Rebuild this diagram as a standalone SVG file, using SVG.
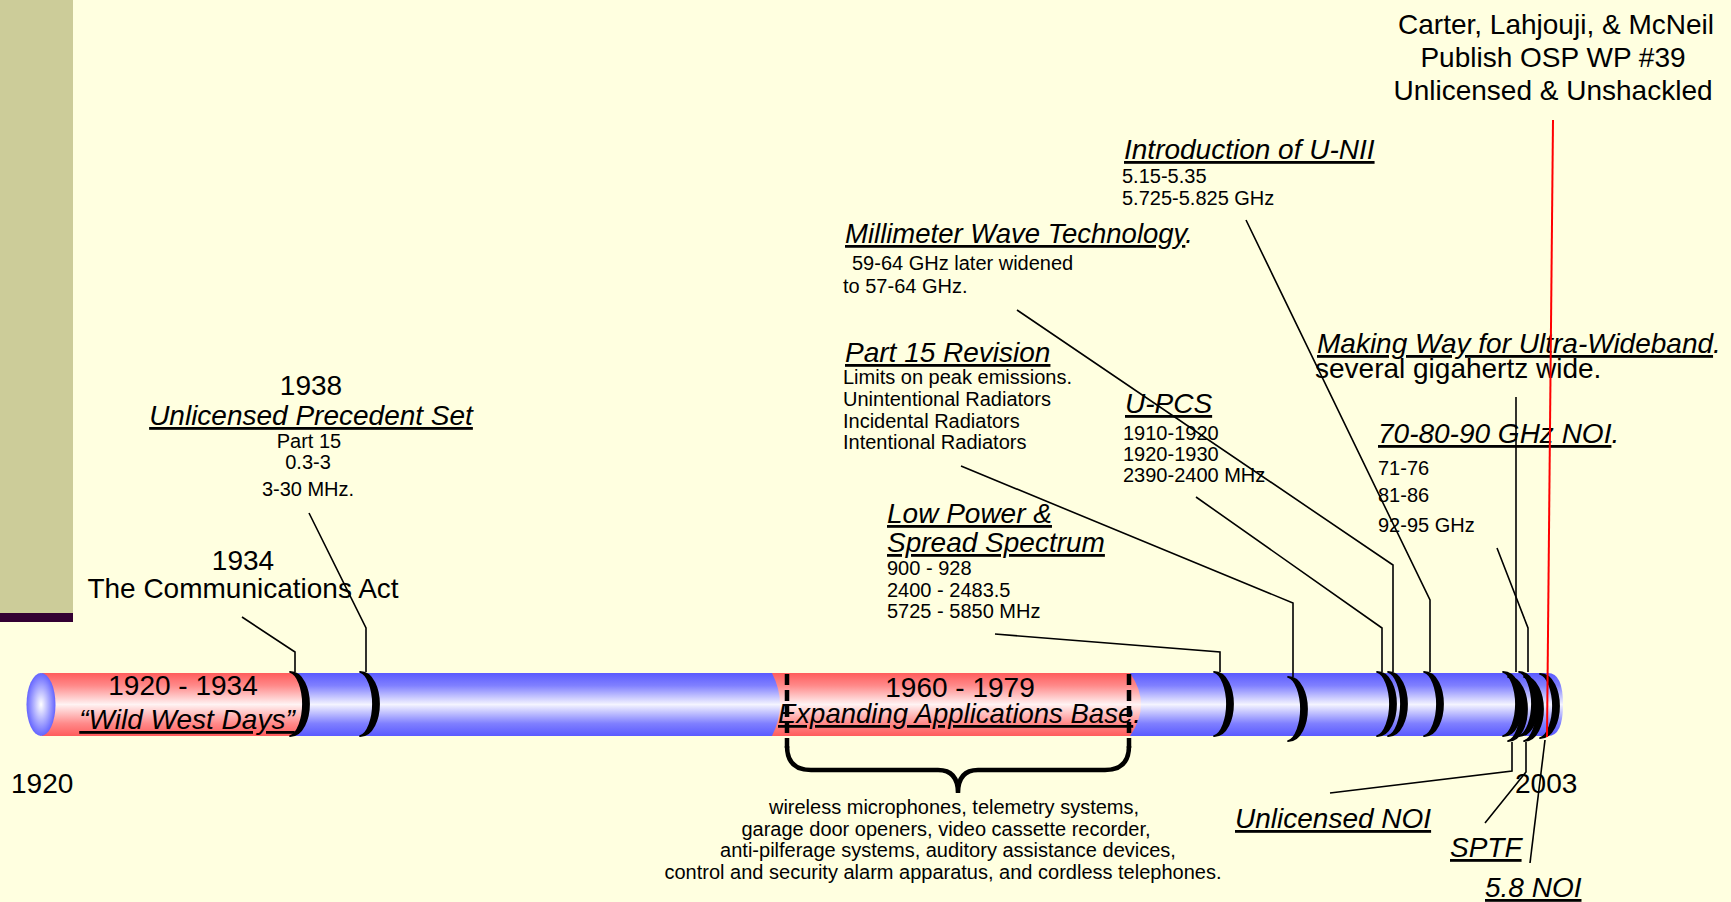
<svg xmlns="http://www.w3.org/2000/svg" width="1731" height="902" viewBox="0 0 1731 902">
<defs>
<style>
text{font-family:"Liberation Sans",Arial,sans-serif;fill:#000}
.b{font-size:28px}
.h{font-size:28px;font-style:italic}
.u{text-decoration:underline}
.s{font-size:20px}
.m{text-anchor:middle}
.con{fill:none;stroke:#000;stroke-width:1.6}
.brk{fill:#000;stroke:#000;stroke-width:1.8;stroke-linejoin:round}
</style>
<linearGradient id="blue" x1="0" y1="0" x2="0" y2="1">
<stop offset="0" stop-color="#5a5aff"/>
<stop offset="0.2" stop-color="#8080ff"/>
<stop offset="0.5" stop-color="#f4f4ff"/>
<stop offset="0.8" stop-color="#8080ff"/>
<stop offset="1" stop-color="#5a5aff"/>
</linearGradient>
<linearGradient id="red" x1="0" y1="0" x2="0" y2="1">
<stop offset="0" stop-color="#ff5c5c"/>
<stop offset="0.2" stop-color="#ff8a8a"/>
<stop offset="0.5" stop-color="#fff3f3"/>
<stop offset="0.8" stop-color="#ff8a8a"/>
<stop offset="1" stop-color="#ff5c5c"/>
</linearGradient>
<radialGradient id="cap" cx="0.5" cy="0.5" r="0.5">
<stop offset="0" stop-color="#ffffff"/>
<stop offset="1" stop-color="#6464ff"/>
</radialGradient>
<path id="br" d="M0,0 C13,0 19,18 19,32 C19,46 13,64 0,64 C8,62 13,46 13,32 C13,18 8,2 0,0 Z"/>
</defs>
<rect width="1731" height="902" fill="#ffffe0"/>
<rect x="0" y="0" width="73" height="613" fill="#cccc99"/>
<rect x="0" y="613" width="73" height="9" fill="#330033"/>

<g id="timeline">
<path d="M42,673 L1548,673 Q1563,673 1563,704.5 Q1563,736 1548,736 L42,736 Z" fill="url(#blue)"/>
<path d="M42,673 L292,673 Q326,704.5 292,736 L42,736 Z" fill="url(#red)"/>
<path d="M772,673 Q788,704.5 772,736 L1130,736 Q1152,704.5 1130,673 Z" fill="url(#red)"/>
<ellipse cx="41" cy="704.5" rx="14.5" ry="31.5" fill="url(#cap)"/>
</g>

<g id="brackets">
<use href="#br" class="brk" x="290" y="672"/>
<use href="#br" class="brk" x="360" y="672"/>
<use href="#br" class="brk" x="1214" y="672"/>
<use href="#br" class="brk" x="1288" y="677"/>
<use href="#br" class="brk" x="1377" y="672"/>
<use href="#br" class="brk" x="1388" y="672"/>
<use href="#br" class="brk" x="1424" y="672"/>
<use href="#br" class="brk" x="1503" y="672"/>
<use href="#br" class="brk" x="1508" y="677"/>
<use href="#br" class="brk" x="1519" y="672"/>
<use href="#br" class="brk" x="1524" y="677"/>
<use href="#br" class="brk" x="1540" y="674"/>
</g>

<g id="period-1920-1934">
<text class="b m" x="183" y="695">1920 - 1934</text>
<text class="h u m" x="187" y="729">“Wild West Days”</text>
</g>

<g id="period-1960-1979">
<line x1="787" y1="674" x2="787" y2="748" stroke="#000" stroke-width="4.5" stroke-dasharray="11 5"/>
<line x1="1129" y1="674" x2="1129" y2="748" stroke="#000" stroke-width="4.5" stroke-dasharray="11 5"/>
<text class="b m" x="960" y="697">1960 - 1979</text>
<text class="h" x="778" y="723" style="font-size:27.5px"><tspan class="u">Expanding Applications Base</tspan>.</text>
<path d="M787,746 Q787,770 811,770 L938,770 Q958,770 958,793 Q958,770 978,770 L1105,770 Q1129,770 1129,746" fill="none" stroke="#000" stroke-width="4.5"/>
<text class="s m" x="954" y="814">wireless microphones, telemetry systems,</text>
<text class="s m" x="946" y="836">garage door openers, video cassette recorder,</text>
<text class="s m" x="948" y="857">anti-pilferage systems, auditory assistance devices,</text>
<text class="s m" x="943" y="879">control and security alarm apparatus, and cordless telephones.</text>
</g>

<g id="year-1920"><text class="b" x="11" y="793">1920</text></g>
<g id="year-2003"><text class="b" x="1515" y="793">2003</text></g>

<g id="ev-1934">
<text class="b m" x="243" y="570">1934</text>
<text class="b m" x="243" y="598">The Communications Act</text>
</g>

<g id="ev-1938">
<text class="b m" x="311" y="395">1938</text>
<text class="h u m" x="311" y="425">Unlicensed Precedent Set</text>
<text class="s m" x="309" y="448">Part 15</text>
<text class="s m" x="308" y="469">0.3-3</text>
<text class="s m" x="308" y="496">3-30 MHz.</text>
</g>

<g id="ev-millimeter">
<text class="h" x="845" y="243" style="font-size:27.5px"><tspan class="u">Millimeter Wave Technology</tspan>.</text>
<text class="s" x="852" y="270">59-64 GHz later widened</text>
<text class="s" x="843" y="293">to 57-64 GHz.</text>
</g>

<g id="ev-part15">
<text class="h u" x="845" y="362">Part 15 Revision</text>
<text class="s" x="843" y="384">Limits on peak emissions.</text>
<text class="s" x="843" y="406">Unintentional Radiators</text>
<text class="s" x="843" y="428">Incidental Radiators</text>
<text class="s" x="843" y="449">Intentional Radiators</text>
</g>

<g id="ev-unii">
<text class="h u" x="1124" y="159">Introduction of U-NII</text>
<text class="s" x="1122" y="183">5.15-5.35</text>
<text class="s" x="1122" y="205">5.725-5.825 GHz</text>
</g>

<g id="ev-upcs">
<text class="h u" x="1125" y="413">U-PCS</text>
<text class="s" x="1123" y="440">1910-1920</text>
<text class="s" x="1123" y="461">1920-1930</text>
<text class="s" x="1123" y="482">2390-2400 MHz</text>
</g>

<g id="ev-lowpower">
<text class="h u" x="887" y="523">Low Power &amp;</text>
<text class="h u" x="887" y="552">Spread Spectrum</text>
<text class="s" x="887" y="575">900 - 928</text>
<text class="s" x="887" y="597">2400 - 2483.5</text>
<text class="s" x="887" y="618">5725 - 5850 MHz</text>
</g>

<g id="ev-uwb">
<text class="h" x="1317" y="353"><tspan class="u">Making Way for Ultra-Wideband</tspan>.</text>
<text class="b" x="1315" y="378">several gigahertz wide.</text>
</g>

<g id="ev-708090">
<text class="h" x="1378" y="443"><tspan class="u">70-80-90 GHz NOI</tspan>.</text>
<text class="s" x="1378" y="475">71-76</text>
<text class="s" x="1378" y="502">81-86</text>
<text class="s" x="1378" y="532">92-95 GHz</text>
</g>

<g id="ev-osp">
<text class="b m" x="1556" y="34">Carter, Lahjouji, &amp; McNeil</text>
<text class="b m" x="1553" y="67">Publish OSP WP #39</text>
<text class="b m" x="1553" y="100">Unlicensed &amp; Unshackled</text>
</g>

<g id="ev-unlnoi"><text class="h u" x="1235" y="828">Unlicensed NOI</text></g>
<g id="ev-sptf"><text class="h u" x="1450" y="857">SPTF</text></g>
<g id="ev-58noi"><text class="h u" x="1485" y="897">5.8 NOI</text></g>

<g id="connectors">
<polyline class="con" points="242,617 295,652 295,672"/>
<polyline class="con" points="309,513 366,628 366,672"/>
<polyline class="con" points="995,634 1220,652 1220,672"/>
<polyline class="con" points="961,466 1293,603 1293,677"/>
<polyline class="con" points="1196,497 1382,628 1382,672"/>
<polyline class="con" points="1017,310 1393,565 1393,672"/>
<polyline class="con" points="1246,220 1430,600 1430,672"/>
<polyline class="con" points="1516,397 1516,672"/>
<polyline class="con" points="1497,548 1528,628 1528,672"/>
<polyline class="con" points="1512,742 1512,771 1330,793"/>
<polyline class="con" points="1526,742 1526,772 1485,823"/>
<polyline class="con" points="1545,740 1530,863"/>
<line x1="1553" y1="120" x2="1547" y2="737" stroke="#ff0000" stroke-width="2"/>
</g>
</svg>
